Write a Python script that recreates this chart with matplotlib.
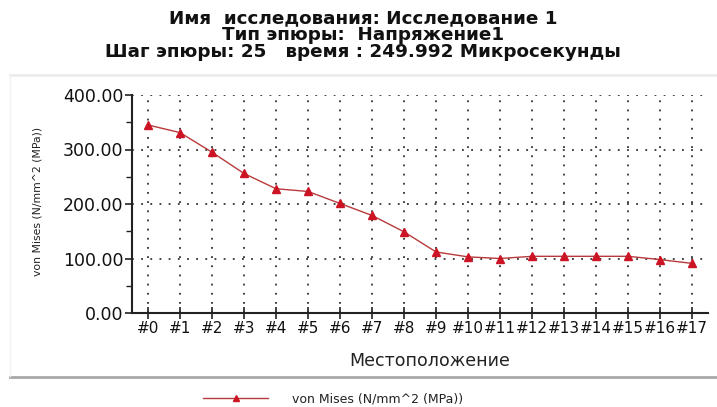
import matplotlib
matplotlib.use("Agg")
import matplotlib.pyplot as plt
from matplotlib.ticker import MultipleLocator
from matplotlib.lines import Line2D

# ---- data ----
categories = ["#0", "#1", "#2", "#3", "#4", "#5", "#6", "#7", "#8", "#9",
              "#10", "#11", "#12", "#13", "#14", "#15", "#16", "#17"]
von_mises = [345, 331, 295, 256, 228, 223, 201, 179, 149, 112,
             103, 100, 104, 104, 104, 104, 98, 91]
y_ticks = [0, 100, 200, 300, 400]
title_lines = ["Имя  исследования: Исследование 1",
               "Тип эпюры:  Напряжение1",
               "Шаг эпюры: 25   время : 249.992 Микросекунды"]
x_label = "Местоположение"
y_label = "von Mises (N/mm^2 (MPa))"
legend_label = "von Mises (N/mm^2 (MPa))"

W, H = 717, 407
fig = plt.figure(figsize=(W / 100, H / 100), dpi=100)
fig.patch.set_facecolor("white")

def fx(px):
    return px / W

def fy(py):
    return 1 - py / H

# panel frame lines
fig.add_artist(Line2D([fx(10), 1], [fy(75), fy(75)], color="#ececec", lw=2.0))
fig.add_artist(Line2D([fx(10), 1], [fy(377), fy(377)], color="#a8a8a8", lw=2.0))
fig.add_artist(Line2D([fx(10), fx(10)], [fy(76), fy(376)], color="#f2f2f2", lw=1.0))

# title (one multi-line text block)
fig.text(fx(363), fy(35), "\n".join(title_lines), ha="center", va="center",
         multialignment="center", fontsize=13.2, linespacing=0.93,
         fontweight="bold", family="DejaVu Sans", color="#111111")

ax = fig.add_axes([fx(132), fy(313), fx(708) - fx(132), fy(95) - fy(313)])
x = list(range(len(categories)))
line_color = "#b83a3a"
ax.plot(x, von_mises, color=line_color, lw=1.0, marker="^", markersize=6,
        markerfacecolor="#cc1424", markeredgecolor="#cc1424", zorder=3)

ax.set_xlim(-0.5, 17.5)
ax.set_ylim(0, 400)
ax.set_xticks(x)
ax.set_xticklabels(categories)
ax.set_yticks(y_ticks)
ax.set_yticklabels([f"{v:.2f}" for v in y_ticks])
ax.yaxis.set_minor_locator(MultipleLocator(50))

for s in ["top", "right"]:
    ax.spines[s].set_visible(False)
for s in ["left", "bottom"]:
    ax.spines[s].set_color("#222222")
    ax.spines[s].set_linewidth(1.5)

ax.tick_params(axis="x", direction="inout", length=8, width=1.2, colors="#222222",
               labelsize=11, pad=2, labelcolor="#111111")
ax.tick_params(axis="y", which="major", direction="out", length=5, width=1.2,
               colors="#222222", labelsize=12.5, pad=1, labelcolor="#111111")
ax.tick_params(axis="y", which="minor", direction="out", length=4, width=1.0,
               colors="#222222")

ax.grid(True, which="major", axis="both", color="#111111", linestyle=(0, (1.2, 4.8)),
        linewidth=1.1)
ax.set_axisbelow(True)

ax.set_xlabel(x_label, fontsize=12.5, color="#222222")
ax.set_ylabel(y_label, fontsize=7.8, color="#222222")
ax.xaxis.set_label_coords((430 - 132) / (708 - 132), -(352 - 313) / (313 - 95))
ax.yaxis.set_label_coords(-(132 - 43) / (708 - 132), (313 - 201) / (313 - 95))

# legend
leg_handle = Line2D([], [], color=line_color, lw=1.0, marker="^", markersize=5,
                    markerfacecolor="#cc1424", markeredgecolor="#cc1424")
fig.legend([leg_handle], [legend_label], loc="center", bbox_to_anchor=(fx(333), fy(399)),
           frameon=False, fontsize=9, handlelength=5.2, handletextpad=1.9,
           labelcolor="#222222", borderpad=0, borderaxespad=0)

fig.savefig("out.png", dpi=100, facecolor="white")
